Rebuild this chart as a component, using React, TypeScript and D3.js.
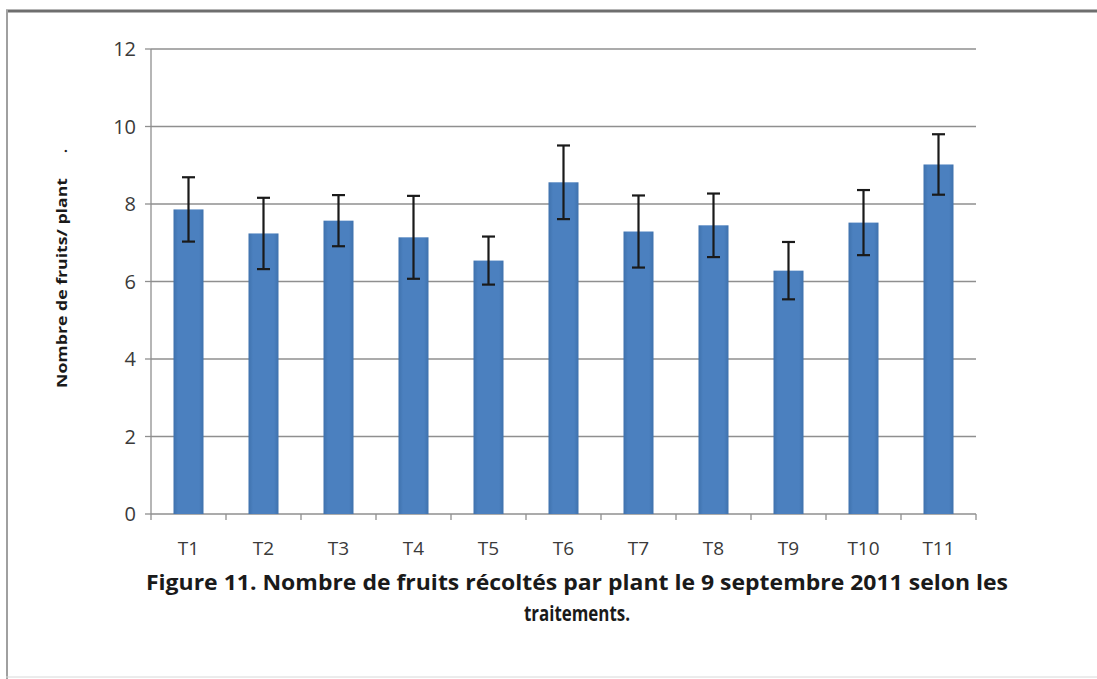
import React from "react";
import * as d3 from "d3";

const categories = ["T1", "T2", "T3", "T4", "T5", "T6", "T7", "T8", "T9", "T10", "T11"];
const values = [7.86, 7.24, 7.57, 7.14, 6.54, 8.56, 7.29, 7.45, 6.28, 7.52, 9.02];
const errors = [0.83, 0.92, 0.66, 1.07, 0.62, 0.95, 0.93, 0.82, 0.74, 0.84, 0.78];
const yTicks = [0, 2, 4, 6, 8, 10, 12];
const yLabel = "Nombre de fruits/ plant";
const captionLine1 = "Figure 11.  Nombre de fruits récoltés par plant le 9 septembre 2011 selon les";
const captionLine2 = "traitements.";

const W = 1097;
const H = 679;
const left = 151;
const right = 976;
const top = 49;
const bottom = 514;

export default function App() {
  const x = d3.scaleBand<string>().domain(categories).range([left, right]).paddingInner(0.6).paddingOuter(0.3);
  const y = d3.scaleLinear().domain([0, 12]).range([bottom, top]);
  const step = x.step();
  const bw = x.bandwidth();
  const font = "'Open Sans', Lato, sans-serif";
  return (
    <svg width={W} height={H} style={{ position: "absolute", left: 0, top: 0, background: "#fff" }} fontFamily={font}>
      <defs>
        <linearGradient id="barg" x1="0" x2="1" y1="0" y2="0">
          <stop offset="0" stopColor="#3f72ad" />
          <stop offset="0.15" stopColor="#4b80bf" />
          <stop offset="0.85" stopColor="#4b80bf" />
          <stop offset="1" stopColor="#3f72ad" />
        </linearGradient>
      </defs>
      {/* frame */}
      <line x1={6} x2={W} y1={11} y2={11} stroke="#6e6e6e" strokeWidth={3} />
      <line x1={7} x2={7} y1={10} y2={H} stroke="#a0a0a0" strokeWidth={2} />
      <line x1={6} x2={W} y1={677} y2={677} stroke="#d8d8d8" strokeWidth={1} />
      {/* gridlines */}
      {yTicks.map((t) => (
        <g key={t}>
          {t > 0 && <line x1={left} x2={right} y1={y(t)} y2={y(t)} stroke="#8f8f8f" strokeWidth={1.3} />}
          <line x1={left - 6} x2={left} y1={y(t)} y2={y(t)} stroke="#8f8f8f" strokeWidth={1.3} />
          <text x={left - 15} y={y(t)} dy="0.36em" textAnchor="end" fontSize={20} fill="#3a3a3a">{t}</text>
        </g>
      ))}
      {/* axes */}
      <line x1={left} x2={left} y1={top} y2={bottom} stroke="#8f8f8f" strokeWidth={1.3} />
      <line x1={left} x2={right} y1={bottom} y2={bottom} stroke="#8f8f8f" strokeWidth={1.3} />
      {categories.map((c, i) => (
        <line key={"t" + c} x1={left + i * step} x2={left + i * step} y1={bottom} y2={bottom + 6} stroke="#8f8f8f" strokeWidth={1.3} />
      ))}
      <line x1={right} x2={right} y1={bottom} y2={bottom + 6} stroke="#8f8f8f" strokeWidth={1.3} />
      {/* bars */}
      {categories.map((c, i) => (
        <rect key={c} x={x(c)!} y={y(values[i])} width={bw} height={y(0) - y(values[i])} fill="url(#barg)" />
      ))}
      {/* error bars */}
      {categories.map((c, i) => {
        const cx = x(c)! + bw / 2;
        const hi = y(values[i] + errors[i]);
        const lo = y(values[i] - errors[i]);
        return (
          <g key={"e" + c} stroke="#1a1a1a" strokeWidth={2.2}>
            <line x1={cx} x2={cx} y1={hi} y2={lo} />
            <line x1={cx - 6.5} x2={cx + 6.5} y1={hi} y2={hi} />
            <line x1={cx - 6.5} x2={cx + 6.5} y1={lo} y2={lo} />
          </g>
        );
      })}
      {/* x labels */}
      {categories.map((c) => (
        <text key={"l" + c} x={x(c)! + bw / 2} y={555} textAnchor="middle" fontSize={19} fill="#3a3a3a">{c}</text>
      ))}
      {/* y label */}
      <text transform={`translate(67,283) rotate(-90)`} textAnchor="middle" fontSize={14} fontWeight="bold" fill="#1a1a1a" textLength={210} lengthAdjust="spacingAndGlyphs">{yLabel}</text>
      <text transform={`translate(67,151) rotate(-90)`} textAnchor="middle" fontSize={14} fontWeight="bold" fill="#1a1a1a">.</text>
      {/* caption */}
      <text x={577} y={590} textAnchor="middle" fontSize={22} fontWeight="bold" fill="#1a1a1a" textLength={862} lengthAdjust="spacingAndGlyphs">{captionLine1}</text>
      <text x={577} y={621} textAnchor="middle" fontSize={22} fontWeight="bold" fill="#1a1a1a" textLength={106} lengthAdjust="spacingAndGlyphs">{captionLine2}</text>
    </svg>
  );
}
